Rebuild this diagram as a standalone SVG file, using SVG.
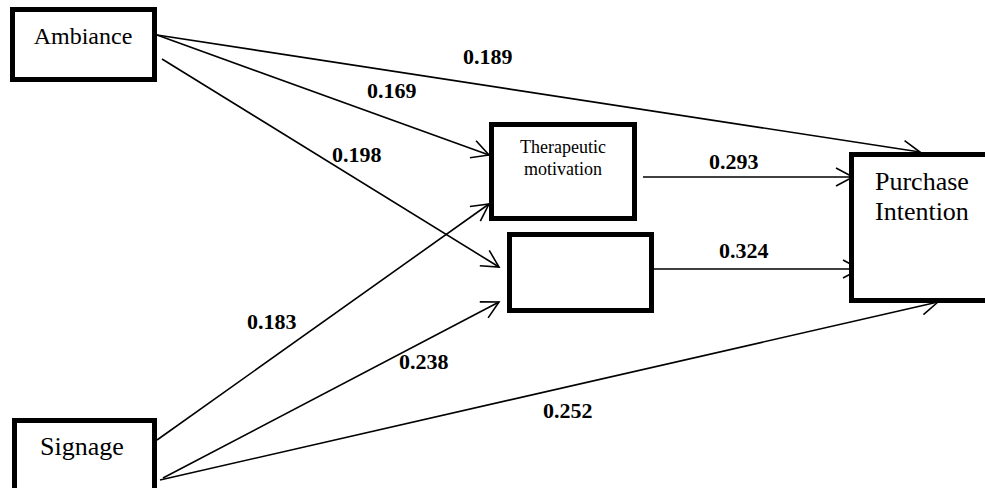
<svg xmlns="http://www.w3.org/2000/svg" width="985" height="488" viewBox="0 0 985 488">
<style>
.box{fill:#fff;stroke:#000;stroke-width:5}
.lbl{font-family:"Liberation Serif","Times New Roman",serif;fill:#000}
.num{font-family:"Liberation Serif","Times New Roman",serif;font-weight:bold;font-size:22px;fill:#000}
.ln{stroke:#000;stroke-width:1.6;fill:none}
</style>
<defs>
<marker id="arr" viewBox="0 0 20 20" refX="18" refY="10" markerWidth="20" markerHeight="20" markerUnits="userSpaceOnUse" orient="auto">
<path d="M1,1 L18,10 L1,19" fill="none" stroke="#000" stroke-width="1.6"/>
</marker>
</defs>
<rect width="985" height="488" fill="#fff"/>
<g id="connectors">
<line class="ln" x1="157" y1="35" x2="920" y2="152" marker-end="url(#arr)"/>
<line class="ln" x1="157" y1="35" x2="489" y2="155" marker-end="url(#arr)"/>
<line class="ln" x1="162" y1="59" x2="499" y2="267" marker-end="url(#arr)"/>
<line class="ln" x1="643" y1="177" x2="853" y2="177" marker-end="url(#arr)"/>
<line class="ln" x1="643" y1="269" x2="860" y2="269" marker-end="url(#arr)"/>
<line class="ln" x1="157" y1="440" x2="489" y2="204" marker-end="url(#arr)"/>
<line class="ln" x1="163" y1="478" x2="499" y2="302" marker-end="url(#arr)"/>
<line class="ln" x1="160" y1="480" x2="938" y2="302" marker-end="url(#arr)"/>
</g>
<g id="ambiance">
<rect class="box" x="12.5" y="9.5" width="142" height="70"/>
<text class="lbl" x="83" y="44" font-size="24" text-anchor="middle">Ambiance</text>
</g>
<g id="signage">
<rect class="box" x="14.5" y="420.5" width="140" height="72"/>
<text class="lbl" x="82" y="455" font-size="26" text-anchor="middle">Signage</text>
</g>
<g id="therapeutic">
<rect class="box" x="491.5" y="124.5" width="143" height="94"/>
<text class="lbl" x="563" y="153" font-size="18" text-anchor="middle">Therapeutic</text>
<text class="lbl" x="563" y="175" font-size="18" text-anchor="middle">motivation</text>
</g>
<g id="empty">
<rect class="box" x="509.5" y="234.5" width="142" height="76"/>
</g>
<g id="purchase">
<rect class="box" x="851.5" y="154.5" width="150" height="146"/>
<text class="lbl" x="875" y="190" font-size="26">Purchase</text>
<text class="lbl" x="875" y="220" font-size="26">Intention</text>
</g>
<g id="labels">
<text class="num" x="463" y="64">0.189</text>
<text class="num" x="367" y="98">0.169</text>
<text class="num" x="332" y="162">0.198</text>
<text class="num" x="709" y="169">0.293</text>
<text class="num" x="719" y="258">0.324</text>
<text class="num" x="247" y="329">0.183</text>
<text class="num" x="399" y="369">0.238</text>
<text class="num" x="543" y="418">0.252</text>
</g>
</svg>
